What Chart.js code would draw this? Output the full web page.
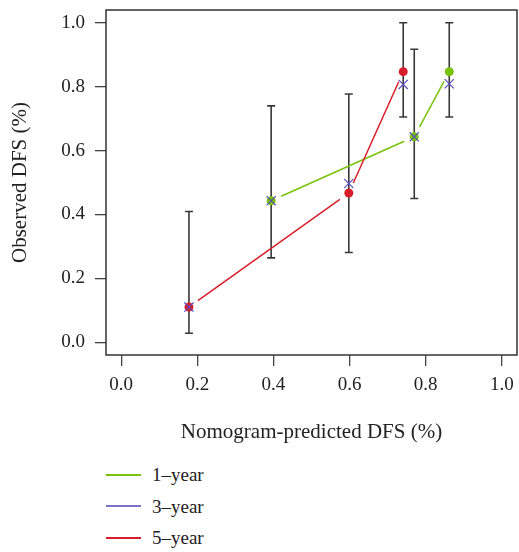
<!doctype html>
<html lang="en">
<head>
    <meta charset="UTF-8">
    <title>Calibration</title>
    <style>
        html, body {
            margin: 0;
            padding: 0;
            background: #fff;
            overflow: hidden;
        }
        .wrap {
            position: relative;
            width: 519px;
            height: 552px;
        }
        .legend {
            position: absolute;
            left: 106px;
            top: 459px;
            font-family: 'Liberation Serif', serif;
            font-size: 19px;
            color: #222;
        }
        .legend .item {
            height: 31.5px;
            line-height: 31.5px;
            display: flex;
            align-items: center;
        }
        .legend .swatch {
            width: 35px;
            height: 0;
            margin-right: 11px;
        }
    </style>
</head>
<body>
    <div class="wrap">
        <canvas id="myChart" width="519" height="452"></canvas>
        <div class="legend" id="legend"></div>
    </div>
    <script src="https://cdn.jsdelivr.net/npm/chart.js@4/dist/chart.umd.min.js"></script>
    <script>
        // axis ticks
        var xTicks = [0, 0.2, 0.4, 0.6, 0.8, 1.0];
        var yTicks = [0, 0.2, 0.4, 0.6, 0.8, 1.0];

        // 1-year
        var oneYearX = [0.394, 0.770, 0.862];
        var oneYearY = [0.443, 0.643, 0.847];
        // 3-year
        var threeYearX = [0.178, 0.394, 0.598, 0.741, 0.770, 0.862];
        var threeYearY = [0.110, 0.443, 0.497, 0.807, 0.643, 0.809];
        // 5-year
        var fiveYearX = [0.178, 0.598, 0.741];
        var fiveYearY = [0.110, 0.467, 0.847];

        // error bars
        var ciX = [0.178, 0.394, 0.598, 0.741, 0.770, 0.862];
        var ciLow = [0.028, 0.264, 0.281, 0.705, 0.450, 0.705];
        var ciHigh = [0.409, 0.740, 0.777, 1.000, 0.917, 1.000];

        var green = '#78c20a';
        var purple = '#5a4fbf';
        var red = '#d81e2b';

        function pts(xs, ys) {
            return xs.map(function (v, i) { return {x: v, y: ys[i]}; });
        }

        var serif = "'Liberation Serif', serif";

        // error bars, broken lines (type "b") and the frame
        var extras = {
            id: 'extras',
            beforeDatasetsDraw: function (chart) {
                var ctx = chart.ctx, x = chart.scales.x, y = chart.scales.y;
                ctx.save();
                ctx.strokeStyle = '#383838';
                ctx.lineWidth = 1.6;
                ciX.forEach(function (v, i) {
                    var px = x.getPixelForValue(v);
                    var lo = y.getPixelForValue(ciLow[i]);
                    var hi = y.getPixelForValue(ciHigh[i]);
                    ctx.beginPath();
                    ctx.moveTo(px, lo); ctx.lineTo(px, hi);
                    ctx.moveTo(px - 4, lo); ctx.lineTo(px + 4, lo);
                    ctx.moveTo(px - 4, hi); ctx.lineTo(px + 4, hi);
                    ctx.stroke();
                });
                chart.data.datasets.forEach(function (ds, di) {
                    if (!ds.gapLine) return;
                    var p = chart.getDatasetMeta(di).data;
                    ctx.strokeStyle = ds.borderColor;
                    ctx.lineWidth = 1.5;
                    for (var i = 0; i < p.length - 1; i++) {
                        var a = p[i], b = p[i + 1];
                        var dx = b.x - a.x, dy = b.y - a.y, d = Math.hypot(dx, dy), g = 11;
                        if (d <= 2 * g) continue;
                        ctx.beginPath();
                        ctx.moveTo(a.x + dx * g / d, a.y + dy * g / d);
                        ctx.lineTo(b.x - dx * g / d, b.y - dy * g / d);
                        ctx.stroke();
                    }
                });
                ctx.restore();
            },
            afterDraw: function (chart) {
                var ctx = chart.ctx, a = chart.chartArea;
                ctx.save();
                ctx.strokeStyle = '#333';
                ctx.lineWidth = 1.5;
                ctx.strokeRect(a.left, a.top, a.right - a.left, a.bottom - a.top);
                ctx.restore();
            }
        };

        var ctx = document.getElementById('myChart').getContext('2d');
        var chart = new Chart(ctx, {
            type: 'scatter',
            data: {
                datasets: [{
                    label: '1\u2013year',
                    data: pts(oneYearX, oneYearY),
                    borderColor: green,
                    backgroundColor: green,
                    pointStyle: 'circle',
                    pointRadius: 4.5,
                    pointBorderWidth: 0,
                    gapLine: true,
                    order: 2
                }, {
                    label: '3\u2013year',
                    data: pts(threeYearX, threeYearY),
                    borderColor: purple,
                    backgroundColor: purple,
                    pointStyle: 'crossRot',
                    pointRadius: 6.5,
                    pointBorderWidth: 1.2,
                    legendColor: '#7b72c6',
                    order: 0
                }, {
                    label: '5\u2013year',
                    data: pts(fiveYearX, fiveYearY),
                    borderColor: red,
                    backgroundColor: red,
                    pointStyle: 'circle',
                    pointRadius: 4.5,
                    pointBorderWidth: 0,
                    gapLine: true,
                    order: 1
                }]
            },
            options: {
                responsive: false,
                animation: false,
                layout: { autoPadding: false, padding: { top: 10, right: 2, left: 0, bottom: 0 } },
                plugins: {
                    legend: { display: false },
                    tooltip: { enabled: false }
                },
                scales: {
                    x: {
                        type: 'linear',
                        min: -0.04,
                        max: 1.04,
                        afterFit: function (s) {
                            s.height = 97;
                            s.paddingLeft = 0;
                            s.paddingRight = 0;
                        },
                        afterBuildTicks: function (s) { s.ticks = xTicks.map(function (v) { return {value: v}; }); },
                        ticks: {
                            autoSkip: false,
                            maxRotation: 0,
                            padding: 8,
                            color: '#222',
                            font: { family: serif, size: 19 },
                            callback: function (v) { return v.toFixed(1); }
                        },
                        grid: { drawOnChartArea: false, drawTicks: true, tickLength: 11, color: '#444', lineWidth: 1.3 },
                        border: { display: false },
                        title: {
                            display: true,
                            text: 'Nomogram-predicted DFS (%)',
                            color: '#222',
                            font: { family: serif, size: 21 },
                            padding: { top: 0, bottom: 7 }
                        }
                    },
                    y: {
                        type: 'linear',
                        min: -0.04,
                        max: 1.04,
                        afterFit: function (s) {
                            s.width = 106;
                            s.paddingTop = 0;
                            s.paddingBottom = 0;
                        },
                        afterBuildTicks: function (s) { s.ticks = yTicks.map(function (v) { return {value: v}; }); },
                        ticks: {
                            autoSkip: false,
                            padding: 10,
                            color: '#222',
                            font: { family: serif, size: 19 },
                            callback: function (v) { return v.toFixed(1); }
                        },
                        grid: { drawOnChartArea: false, drawTicks: true, tickLength: 11, color: '#444', lineWidth: 1.3 },
                        border: { display: false },
                        title: {
                            display: true,
                            text: 'Observed DFS (%)',
                            color: '#222',
                            font: { family: serif, size: 21 },
                            padding: { top: 8, bottom: 0 }
                        }
                    }
                }
            },
            plugins: [extras]
        });

        // legend as a vertical list, like the R figure
        var legend = document.getElementById('legend');
        chart.data.datasets.forEach(function (ds) {
            var row = document.createElement('div');
            row.className = 'item';
            var sw = document.createElement('span');
            sw.className = 'swatch';
            sw.style.borderTop = '2px solid ' + (ds.legendColor || ds.borderColor);
            var txt = document.createElement('span');
            txt.textContent = ds.label;
            row.appendChild(sw);
            row.appendChild(txt);
            legend.appendChild(row);
        });
    </script>
</body>
</html>
